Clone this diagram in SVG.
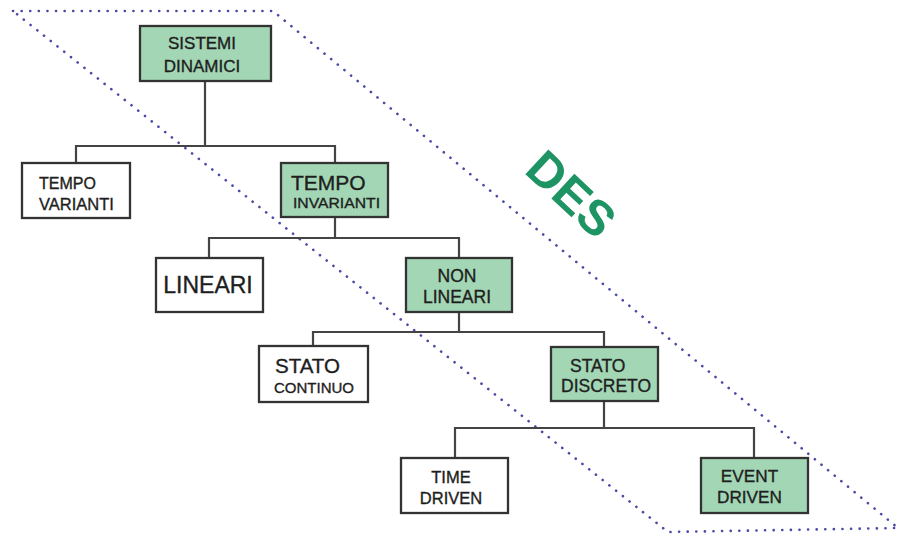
<svg xmlns="http://www.w3.org/2000/svg" width="899" height="536" viewBox="0 0 899 536">
<style>
.box{stroke:#333;stroke-width:2.3;}
.g{fill:#a3d6b5;}
.w{fill:#ffffff;}
.t{font-family:"Liberation Sans",Arial,sans-serif;fill:#1e1e1e;stroke:#1e1e1e;stroke-width:0.35;}
.c{fill:none;stroke:#444;stroke-width:2.2;}
.des{font-family:"Liberation Sans",Arial,sans-serif;font-weight:bold;fill:#1e9464;}
</style>
<rect width="899" height="536" fill="#ffffff"/>
<g id="des-region">
<polygon points="13,11 273,11 898,528 668,532" fill="none" stroke="#4a4aa6" stroke-width="2.6" stroke-linecap="round" stroke-dasharray="0.1 8.5"/>
<text class="des" x="523" y="172" font-size="49" transform="rotate(43 523 172)">DES</text>
</g>
<g id="connectors">
<path class="c" d="M205,81V146M76,163V146H335V163"/>
<path class="c" d="M335,217V238M209,258V238H459V258"/>
<path class="c" d="M459,312V332M313,346V332H604V347"/>
<path class="c" d="M604,401V428M455,458V428H754V458"/>
</g>
<g id="sistemi-dinamici">
<rect class="box g" x="140" y="26" width="131" height="55"/>
<text class="t" font-size="17" text-anchor="middle" x="202" y="49">SISTEMI</text>
<text class="t" font-size="17" text-anchor="middle" x="202" y="72">DINAMICI</text>
</g>
<g id="tempo-varianti">
<rect class="box w" x="22" y="163" width="108" height="55"/>
<text class="t" font-size="16" x="39" y="189">TEMPO</text>
<text class="t" font-size="16.5" x="39" y="210">VARIANTI</text>
</g>
<g id="tempo-invarianti">
<rect class="box g" x="281" y="163" width="107" height="54"/>
<text class="t" font-size="21" x="291" y="190">TEMPO</text>
<text class="t" font-size="14.5" x="293" y="208" textLength="87" lengthAdjust="spacingAndGlyphs">INVARIANTI</text>
</g>
<g id="lineari">
<rect class="box w" x="156" y="258" width="107" height="54"/>
<text class="t" font-size="23" text-anchor="middle" x="208" y="293">LINEARI</text>
</g>
<g id="non-lineari">
<rect class="box g" x="406" y="258" width="106" height="54"/>
<text class="t" font-size="17.5" text-anchor="middle" x="457" y="282">NON</text>
<text class="t" font-size="17.5" text-anchor="middle" x="457" y="303">LINEARI</text>
</g>
<g id="stato-continuo">
<rect class="box w" x="259" y="346" width="109" height="56"/>
<text class="t" font-size="20.5" x="275" y="373">STATO</text>
<text class="t" font-size="15" x="274" y="393">CONTINUO</text>
</g>
<g id="stato-discreto">
<rect class="box g" x="551" y="347" width="107" height="54"/>
<text class="t" font-size="17.5" x="570" y="372">STATO</text>
<text class="t" font-size="17.5" x="561" y="392">DISCRETO</text>
</g>
<g id="time-driven">
<rect class="box w" x="401" y="458" width="107" height="55"/>
<text class="t" font-size="16.5" text-anchor="middle" x="451" y="483">TIME</text>
<text class="t" font-size="16.5" text-anchor="middle" x="451" y="504">DRIVEN</text>
</g>
<g id="event-driven">
<rect class="box g" x="701" y="458" width="107" height="55"/>
<text class="t" font-size="17.2" text-anchor="middle" x="749.5" y="482">EVENT</text>
<text class="t" font-size="17.2" text-anchor="middle" x="749.5" y="503">DRIVEN</text>
</g>
</svg>
